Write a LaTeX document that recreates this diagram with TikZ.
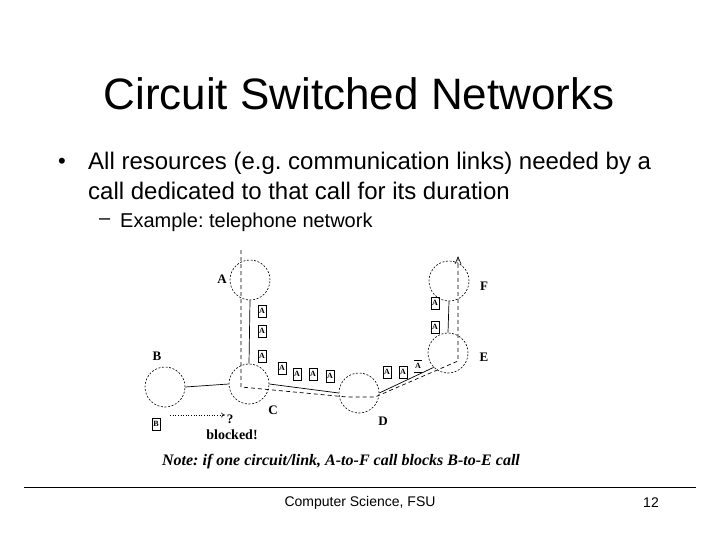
\documentclass[tikz,border=0pt]{standalone}
\usepackage{fontspec}
\setmainfont{Liberation Sans}
\newfontfamily\serifb{Liberation Serif}
\usetikzlibrary{arrows.meta}
\begin{document}
\frenchspacing
\begin{tikzpicture}[x=1pt,y=-1pt,
  site/.style={circle,draw,dash pattern=on 2pt off 1.6pt,line width=0.6pt,minimum size=40pt,inner sep=0pt},
  lbl/.style={font=\serifb\bfseries\fontsize{13}{13}\selectfont,inner sep=0pt},
  abox/.style={draw,line width=0.5pt,font=\serifb\bfseries\fontsize{8}{8}\selectfont,minimum width=8pt,minimum height=12pt,inner sep=0pt},
  link/.style={line width=0.7pt},
  route/.style={line width=0.7pt,dash pattern=on 4pt off 3pt}]
\useasboundingbox (0,0) rectangle (720,540);
% title and bullets
\node (title) at (359,94) {\fontsize{44}{44}\selectfont Circuit Switched Networks};
\node[anchor=west,inner sep=0pt] (bul) at (58,163) {\fontsize{22}{22}\selectfont •};
\node[anchor=west,inner sep=0pt] (l1) at (88,163) {\fontsize{24}{24}\selectfont All resources (e.g. communication links) needed by a};
\node[anchor=west,inner sep=0pt] (l2) at (88,191) {\fontsize{24}{24}\selectfont call dedicated to that call for its duration};
\node[anchor=west,inner sep=0pt] (dash) at (99,222) {\fontsize{20}{20}\selectfont –};
\node[anchor=west,inner sep=0pt] (l3) at (120,222) {\fontsize{20}{20}\selectfont Example: telephone network};
% sites
\node[site] (A) at (250,280) {};
\node[site] (B) at (165,387) {};
\node[site] (C) at (249,384) {};
\node[site] (D) at (359,393) {};
\node[site] (E) at (448,353) {};
\node[site] (F) at (449,281) {};
% links
\draw[link] (A.south) -- (C.north);
\draw[link] (B.east) -- (C.west);
\draw[link] (C.east) -- (D.west);
\draw[link] (D.east) -- (E.south west);
\draw[link] (E.north) -- (F.south);
% route of the A-to-F call
\coordinate (r0) at (241,250);
\coordinate (r1) at (241,387);
\coordinate (r2) at (347,397);
\coordinate (r3) at (375,397);
\coordinate (r4) at (458,361);
\coordinate (r5) at (458,257);
\draw[route] (r0) -- (r1) -- (r2) -- (r3) -- (r4) -- (r5);
\draw[line width=0.6pt] (455,264) -- (r5) -- (461,264);
% site labels
\node[lbl] (la) at (222,279) {A};
\node[lbl] (lb) at (157,356) {B};
\node[lbl] (lc) at (273,410) {C};
\node[lbl] (ld) at (383,421) {D};
\node[lbl] (le) at (484,357) {E};
\node[lbl] (lf) at (484,286) {F};
% circuit tokens
\node[abox] (a1) at (262,311) {A};
\node[abox] (a2) at (262,331) {A};
\node[abox] (a3) at (262,356) {A};
\node[abox] (a4) at (282,368) {A};
\node[abox] (a5) at (297,374) {A};
\node[abox] (a6) at (313,374) {A};
\node[abox] (a7) at (330,376) {A};
\node[abox] (a8) at (387,372) {A};
\node[abox] (a9) at (403,372) {A};
\node[abox,draw=none] (a10) at (418,366) {A};
\draw[line width=0.5pt] (a10.north west) -- (a10.north east) (a10.south west) -- (a10.south east);
\node[abox] (a11) at (435,303) {A};
\node[abox] (a12) at (435,327) {A};
% blocked call
\node[abox] (bb) at (156,424) {B};
\node[font=\serifb\bfseries\fontsize{13}{13}\selectfont,inner sep=0pt] (q) at (230,419) {?};
\draw[line width=0.6pt,dotted,-{To[length=4pt,width=5pt]}] (bb.east) ++(10,-9) coordinate (s0) -- (225,415);
\node[font=\serifb\bfseries\fontsize{14}{14}\selectfont,inner sep=0pt] (blk) at (232,435) {blocked!};
% note
\node[font=\serifb\bfseries\itshape\fontsize{16}{16}\selectfont,inner sep=0pt] (note) at (341,462) {Note: if one circuit/link, A-to-F call blocks B-to-E call};
% footer
\coordinate (f0) at (24,487);
\coordinate (f1) at (696,487);
\draw[line width=0.8pt] (f0) -- (f1);
\node (foot) at (360,503) {\fontsize{14}{14}\selectfont Computer Science, FSU};
\node (pg) at (651,503) {\fontsize{14}{14}\selectfont 12};
\end{tikzpicture}
\end{document}
